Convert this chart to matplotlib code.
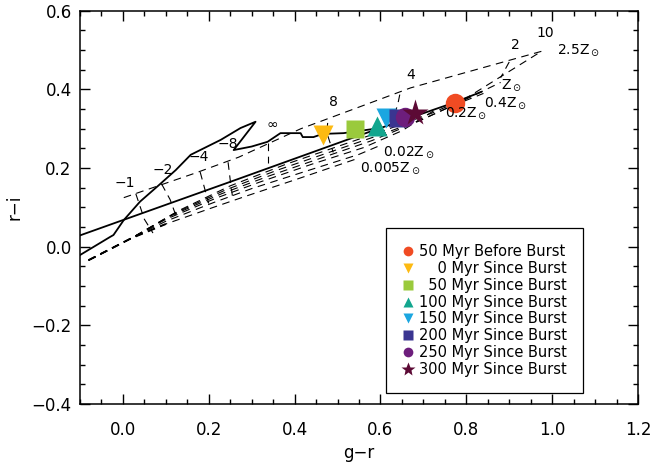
import matplotlib
matplotlib.use("Agg")
import matplotlib.pyplot as plt

plt.rcParams['font.family'] = ['DejaVu Sans']
plt.rcParams['mathtext.fontset'] = 'dejavusans'
plt.rcParams['lines.scale_dashes'] = False

# solid model tracks
line_a_x = [-0.10, 0.27, 0.55, 0.77, 0.835]
line_a_y = [0.029, 0.173, 0.283, 0.366, 0.394]

burst_x = [-0.10, -0.03, -0.022, 0.002, 0.04, 0.084, 0.123, 0.158, 0.228, 0.274, 0.309,
           0.258, 0.300, 0.337, 0.367, 0.414, 0.419, 0.444, 0.465, 0.514, 0.553, 0.60]
burst_y = [-0.021, 0.025, 0.030, 0.068, 0.115, 0.157, 0.195, 0.234, 0.272, 0.302, 0.318,
           0.246, 0.255, 0.267, 0.289, 0.289, 0.279, 0.279, 0.287, 0.289, 0.295, 0.302]
burst_labels = ['−1', '−2', '−4', '−8', '∞']
burst_lab_x = [0.005, 0.093, 0.177, 0.245, 0.349]
burst_lab_y = [0.162, 0.195, 0.229, 0.262, 0.310]

# dashed metallicity tracks
track_names = ['0.005Z$_\\odot$', '0.02Z$_\\odot$', '0.2Z$_\\odot$', '0.4Z$_\\odot$',
               'Z$_\\odot$', '2.5Z$_\\odot$']
track_x = [
    [-0.08, 0.02, 0.10, 0.21, 0.29, 0.40, 0.54],
    [-0.08, 0.02, 0.10, 0.21, 0.30, 0.42, 0.55, 0.60],
    [-0.08, 0.02, 0.10, 0.22, 0.32, 0.44, 0.56, 0.65, 0.73],
    [-0.08, 0.02, 0.11, 0.23, 0.34, 0.46, 0.58, 0.68, 0.76, 0.84],
    [-0.08, 0.02, 0.12, 0.24, 0.36, 0.48, 0.60, 0.70, 0.78, 0.88],
    [-0.08, 0.02, 0.13, 0.25, 0.38, 0.50, 0.62, 0.72, 0.80, 0.975],
]
track_y = [
    [-0.034, 0.022, 0.058, 0.100, 0.130, 0.170, 0.222],
    [-0.034, 0.022, 0.065, 0.112, 0.148, 0.190, 0.235, 0.258],
    [-0.034, 0.022, 0.070, 0.125, 0.165, 0.210, 0.252, 0.295, 0.350],
    [-0.034, 0.022, 0.078, 0.135, 0.180, 0.225, 0.270, 0.315, 0.355, 0.390],
    [-0.034, 0.022, 0.085, 0.145, 0.195, 0.240, 0.285, 0.325, 0.365, 0.418],
    [-0.034, 0.022, 0.092, 0.155, 0.210, 0.255, 0.300, 0.340, 0.378, 0.497],
]
track_lab_x = [0.553, 0.605, 0.751, 0.842, 0.880, 1.012]
track_lab_y = [0.200, 0.240, 0.340, 0.366, 0.410, 0.500]

# upper dashed sequence and short age connectors
upper_x = [0.002, 0.17, 0.27, 0.414, 0.67, 0.975]
upper_y = [0.125, 0.188, 0.228, 0.300, 0.404, 0.497]
upper_labels = ['8', '4', '2', '10']
upper_lab_x = [0.490, 0.670, 0.914, 0.984]
upper_lab_y = [0.368, 0.437, 0.513, 0.544]

conn_x = [[0.03, 0.05, 0.07], [0.09, 0.11, 0.125], [0.18, 0.19, 0.20], [0.245, 0.25, 0.255],
          [0.337, 0.337], [0.477, 0.475, 0.49], [0.645, 0.64, 0.62], [0.90, 0.88]]
conn_y = [[0.135, 0.07, 0.035], [0.16, 0.12, 0.075], [0.19, 0.15, 0.11], [0.215, 0.17, 0.13],
          [0.264, 0.213], [0.315, 0.29, 0.24], [0.387, 0.36, 0.30], [0.47, 0.43]]

# burst epochs
epoch_labels = ['50 Myr Before Burst', '\u2007\u20070 Myr Since Burst', '\u200750 Myr Since Burst',
                '100 Myr Since Burst', '150 Myr Since Burst', '200 Myr Since Burst',
                '250 Myr Since Burst', '300 Myr Since Burst']
epoch_gr = [0.774, 0.465, 0.540, 0.591, 0.612, 0.640, 0.658, 0.681]
epoch_ri = [0.365, 0.284, 0.299, 0.306, 0.327, 0.327, 0.330, 0.339]
epoch_markers = ['o', 'v', 's', '^', 'v', 's', 'o', '*']
epoch_colors = ['#F04B23', '#FDBA12', '#9ACA3C', '#12A68E', '#1BA6E0', '#3A3591', '#6D1E7C', '#5C0A35']
epoch_sizes = [14, 14, 13, 14, 14, 13, 14, 20]

fig = plt.figure(figsize=(6.53, 4.71), dpi=100)
ax = fig.add_axes([0.1225, 0.142, 0.8545, 0.835])

ax.plot(line_a_x, line_a_y, color='black', lw=1.3)
ax.plot(burst_x, burst_y, color='black', lw=1.3)
for i in range(len(burst_labels)):
    ax.text(burst_lab_x[i], burst_lab_y[i], burst_labels[i], fontsize=10, ha='center', va='center')

for i in range(len(track_x)):
    ax.plot(track_x[i], track_y[i], color='black', lw=0.8, ls=(0, (5.5, 4)))
    ax.text(track_lab_x[i], track_lab_y[i], track_names[i], fontsize=10, ha='left', va='center')
ax.plot(track_x[0][:3], track_y[0][:3], color='black', lw=1.4, ls=(0, (5.5, 4)))

ax.plot(upper_x, upper_y, color='black', lw=0.8, ls=(0, (5.5, 4)))
for i in range(len(upper_labels)):
    ax.text(upper_lab_x[i], upper_lab_y[i], upper_labels[i], fontsize=10, ha='center', va='center')
for i in range(len(conn_x)):
    ax.plot(conn_x[i], conn_y[i], color='black', lw=0.8, ls=(0, (5.5, 4)))

handles = []
for i in range(len(epoch_labels)):
    h, = ax.plot(epoch_gr[i], epoch_ri[i], ls='none', marker=epoch_markers[i],
                 color=epoch_colors[i], ms=epoch_sizes[i], mec='none', label=epoch_labels[i])
    handles.append(h)

leg = ax.legend(handles=handles, loc='upper left', bbox_to_anchor=(0.548, 0.447),
                fontsize=10.5, markerscale=0.5, handletextpad=0.4, handlelength=0.8,
                labelspacing=0.12, borderpad=1.1, borderaxespad=0, fancybox=False,
                framealpha=1, edgecolor='black')
leg.get_frame().set_linewidth(0.9)

ax.set_xlim(-0.1, 1.2)
ax.set_ylim(-0.4, 0.6)
ax.set_xticks([0.0, 0.2, 0.4, 0.6, 0.8, 1.0, 1.2])
ax.set_yticks([-0.4, -0.2, 0.0, 0.2, 0.4, 0.6])
ax.set_xticks([x / 20 for x in range(-2, 25)], minor=True)
ax.set_yticks([y / 20 for y in range(-8, 13)], minor=True)
ax.tick_params(which='both', direction='in', top=True, right=True, labelsize=12, width=1)
ax.tick_params(which='major', length=7)
ax.tick_params(which='minor', length=3.5)
ax.tick_params(axis='x', which='major', pad=12)
ax.tick_params(axis='y', which='major', pad=6)
for s in ax.spines.values():
    s.set_linewidth(1.1)
ax.set_xlabel('g−r', fontsize=12, labelpad=4)
ax.set_ylabel('r−i', fontsize=12, labelpad=6)

fig.savefig('out.png', dpi=100)
